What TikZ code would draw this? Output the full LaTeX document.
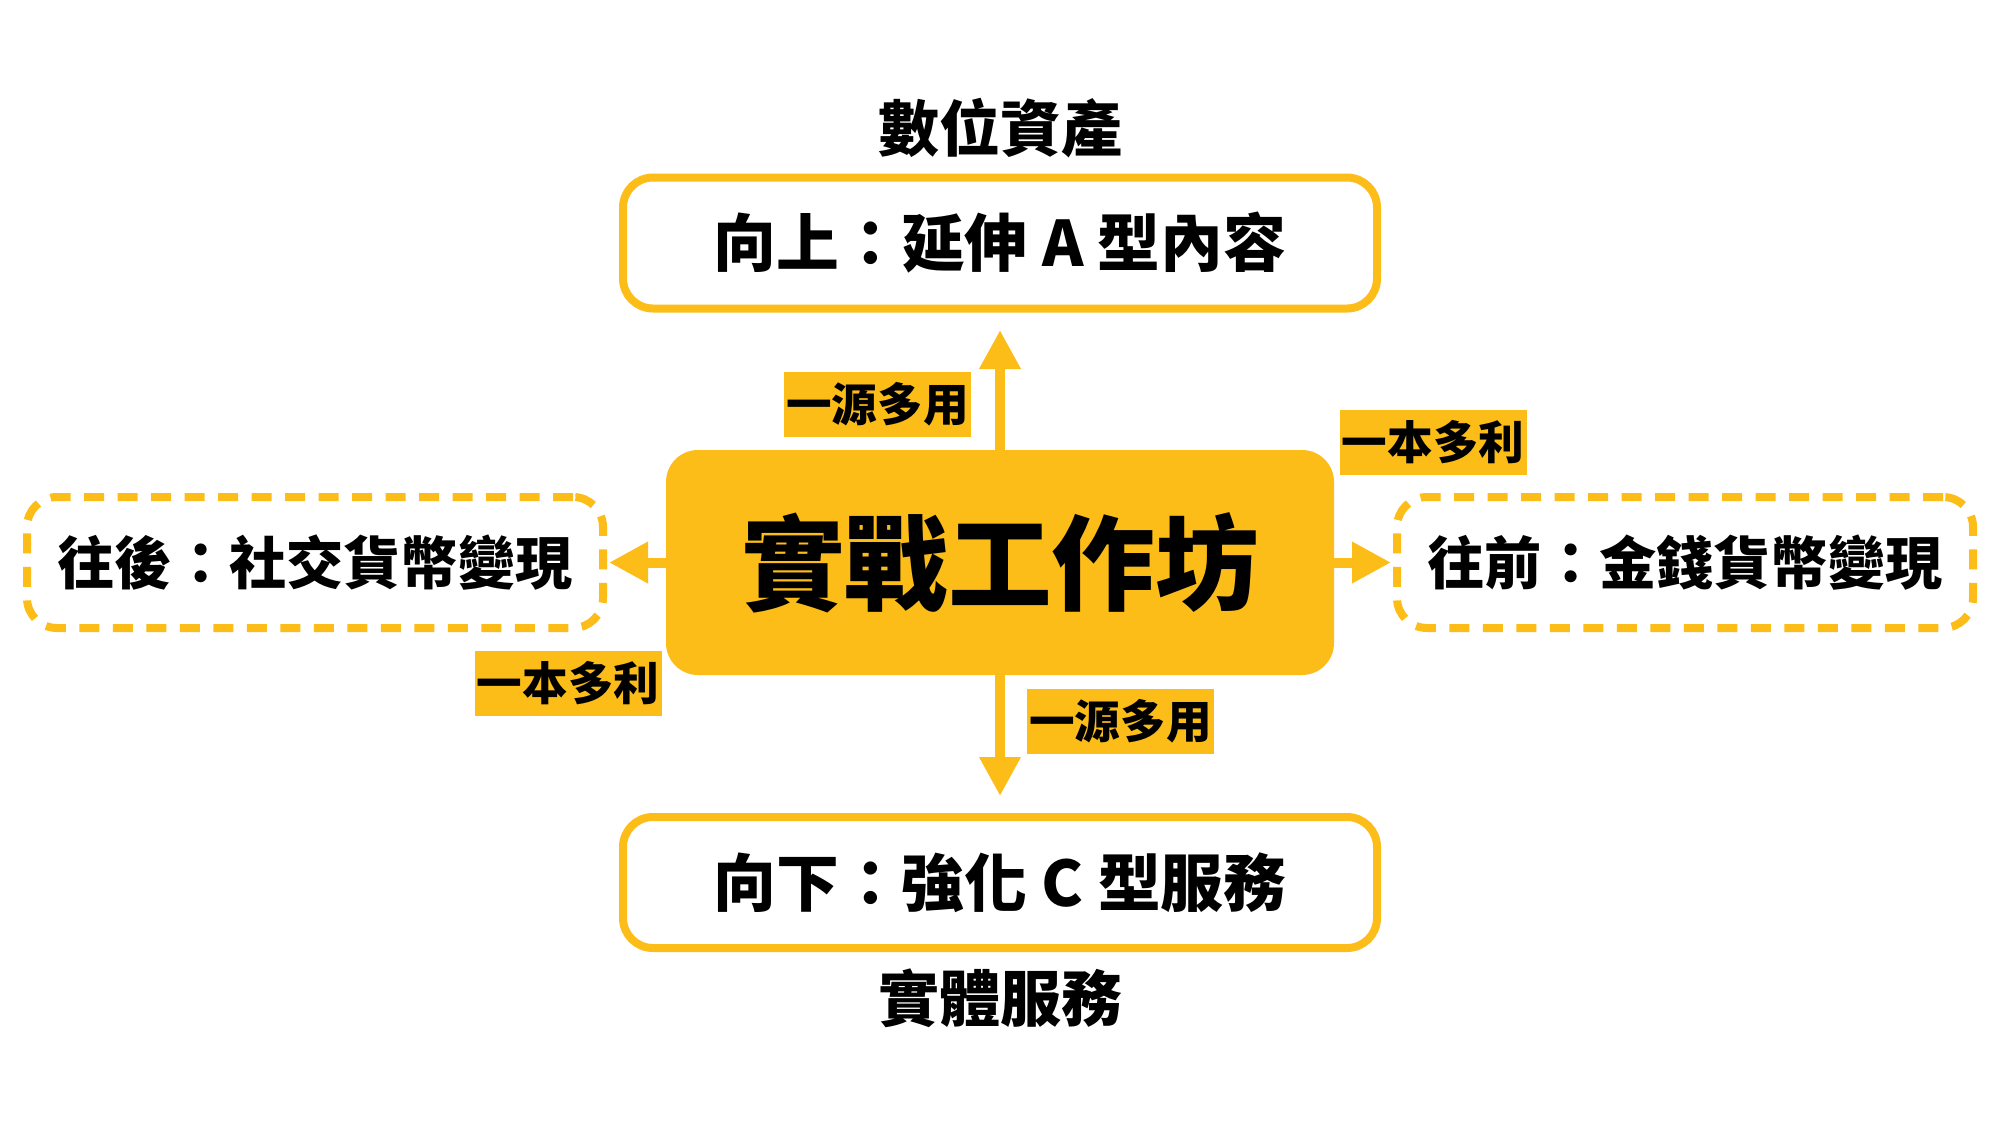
\documentclass[tikz,border=0pt]{standalone}
\usepackage{fontspec}
\setmainfont{Noto Sans CJK TC}
\usetikzlibrary{arrows.meta}
\definecolor{ylw}{HTML}{FDBD18}
\tikzset{
  solidbox/.style={draw=ylw, line width=4pt, rounded corners=15pt, fill=white,
    minimum width=377pt, minimum height=65.5pt, inner sep=0pt,
    font=\fontsize{31.4}{37}\selectfont\bfseries},
  dashbox/.style={draw=ylw, line width=4pt, dash pattern=on 10pt off 6.75pt,
    rounded corners=15pt, fill=white,
    minimum width=288pt, minimum height=65.5pt, inner sep=0pt,
    font=\fontsize{28.6}{34}\selectfont\bfseries},
  hub/.style={fill=ylw, rounded corners=16pt, minimum width=334pt,
    minimum height=112.5pt, inner sep=0pt,
    font=\fontsize{51.8}{60}\selectfont\bfseries},
  tag/.style={fill=ylw, minimum width=93.5pt, minimum height=32.5pt, inner sep=0pt,
    font=\fontsize{22.8}{27}\selectfont\bfseries},
  headline/.style={inner sep=0pt, font=\fontsize{30.5}{36}\selectfont\bfseries},
  link/.style={draw=ylw, line width=5pt, -{Triangle[length=19.5pt,width=19.5pt]}}
}
\begin{document}
\begin{tikzpicture}[x=0.5pt,y=-0.5pt]
\fill[white] (0,0) rectangle (2000,1125);
\useasboundingbox (0,0) rectangle (2000,1125);

\node[headline] (t1) at (1000,128) {數位資產};
\node[solidbox] (up) at (1000,243) {向上：延伸 A 型內容};
\node[solidbox] (down) at (1000,882.5) {向下：強化 C 型服務};
\node[headline] (t2) at (1000,998) {實體服務};
\node[dashbox] (left) at (315,562.5) {往後：社交貨幣變現};
\node[dashbox] (right) at (1685,562.5) {往前：金錢貨幣變現};

\coordinate (upend) at (1000,330);
\coordinate (downend) at (1000,796);
\coordinate (leftend) at (609,562.5);
\coordinate (rightend) at (1391,562.5);

\node[hub] (hubnode) at (1000,562.5) {實戰工作坊};

\draw[link] (hubnode.north) -- (upend);
\draw[link] (hubnode.south) -- (downend);
\draw[link] (hubnode.west) -- (leftend);
\draw[link] (hubnode.east) -- (rightend);

\node[tag] (tagup) at (877.5,404) {一源多用};
\node[tag] (tagright) at (1433,442.5) {一本多利};
\node[tag] (tagleft) at (568,683) {一本多利};
\node[tag] (tagdown) at (1120.5,721.5) {一源多用};
\end{tikzpicture}
\end{document}
